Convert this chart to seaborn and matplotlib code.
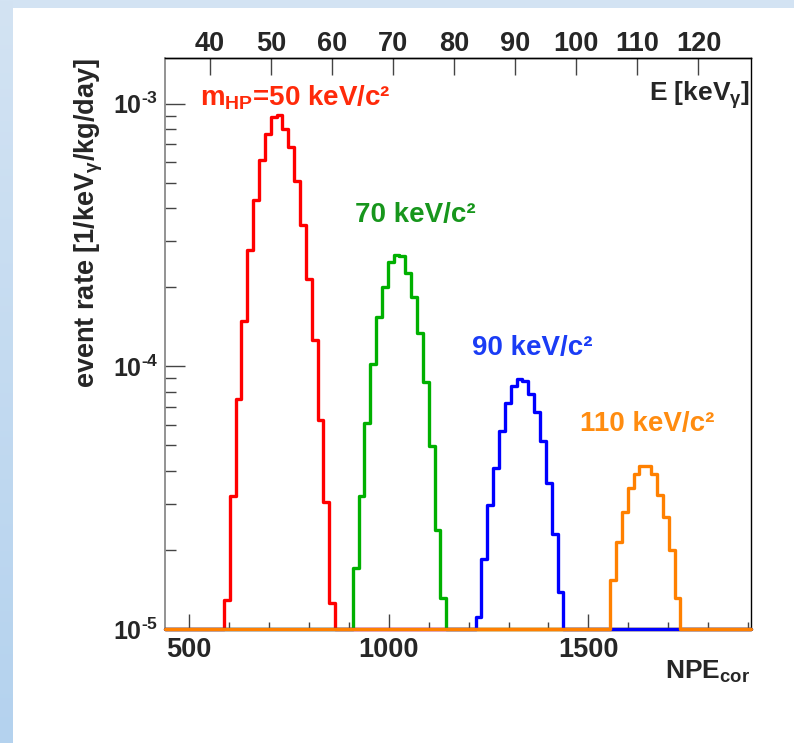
import numpy as np
import pandas as pd
import matplotlib
matplotlib.use("Agg")
import matplotlib.pyplot as plt
import matplotlib.ticker as mticker
import seaborn as sns

# ---- binned spectra: event rate per NPE_cor bin (common bin width) ----
BIN_WIDTH = 14.65
masses = ["50", "70", "90", "110"]
first_bin_edge = [587.5, 909.8, 1217.5, 1554.4]

rate_50 = [1.29e-5, 3.22e-5, 7.51e-5, 1.49e-4, 2.76e-4, 4.28e-4, 6.12e-4,
           7.63e-4, 8.91e-4, 9.03e-4, 7.97e-4, 6.82e-4, 5.08e-4, 3.46e-4,
           2.15e-4, 1.26e-4, 6.23e-5, 3.04e-5, 1.26e-5]
rate_70 = [1.70e-5, 3.20e-5, 6.09e-5, 1.02e-4, 1.54e-4, 2.01e-4, 2.50e-4,
           2.64e-4, 2.62e-4, 2.27e-4, 1.84e-4, 1.34e-4, 8.69e-5, 4.99e-5,
           2.39e-5, 1.31e-5]
rate_90 = [1.11e-5, 1.85e-5, 2.97e-5, 4.10e-5, 5.69e-5, 7.23e-5, 8.39e-5,
           8.95e-5, 8.77e-5, 7.85e-5, 6.68e-5, 5.18e-5, 3.60e-5, 2.29e-5,
           1.38e-5]
rate_110 = [1.53e-5, 2.14e-5, 2.78e-5, 3.43e-5, 3.89e-5, 4.16e-5, 4.16e-5,
            3.89e-5, 3.25e-5, 2.66e-5, 2.00e-5, 1.31e-5]
rates = [rate_50, rate_70, rate_90, rate_110]

line_colors = ["#ff0000", "#00b000", "#0000ff", "#ff8000"]
text_colors = ["#ff2a0a", "#17961c", "#1a3cf5", "#ff8c10"]
peak_labels = [r"m$_{\mathbf{HP}}$=50 keV/c²", "70 keV/c²", "90 keV/c²", "110 keV/c²"]
label_pos = [(0.060, 0.930), (0.324, 0.725), (0.524, 0.492), (0.708, 0.359)]

# axis ranges and NPE <-> energy calibration for the top axis
XMIN, XMAX = 440.0, 1907.0
YMIN, YMAX = 1e-5, 1.49e-3
NPE_PER_KEV, NPE_OFFSET = 15.29, -59.3
energy_ticks = [40, 50, 60, 70, 80, 90, 100, 110, 120]
npe_major = [500, 1000, 1500]

# ---- style ----
sns.set_style("ticks")
plt.rcParams["font.family"] = ["Liberation Sans", "DejaVu Sans"]
plt.rcParams["font.weight"] = "bold"
plt.rcParams["mathtext.fontset"] = "custom"
plt.rcParams["mathtext.rm"] = "Liberation Sans:bold"
plt.rcParams["mathtext.bf"] = "Liberation Sans:bold"
plt.rcParams["mathtext.it"] = "Liberation Sans:bold"
plt.rcParams["mathtext.default"] = "bf"

# ---- long table of step outlines over the whole axis range ----
rows = []
for m, start, vals in zip(masses, first_bin_edge, rates):
    edges = start + BIN_WIDTH * np.arange(len(vals) + 1)
    xs = np.concatenate([[XMIN], edges, [XMAX]])
    ys = np.concatenate([[0.0], vals, [0.0, 0.0]])
    for x, y in zip(xs, ys):
        rows.append({"npe": x, "rate": max(y, YMIN), "mass": m})
df = pd.DataFrame(rows)

fig = plt.figure(figsize=(7.94, 7.43), dpi=100)

# slide background bands
band_top = fig.add_axes([0, 1 - 8 / 743, 1, 8 / 743])
band_top.imshow([[0, 0]], cmap=matplotlib.colors.ListedColormap(["#d3e3f3"]),
                aspect="auto", extent=[0, 1, 0, 1])
band_top.axis("off")
band_left = fig.add_axes([0, 0, 13 / 794, 1])
grad = np.linspace(0, 1, 256).reshape(-1, 1)
band_left.imshow(grad, cmap=matplotlib.colors.LinearSegmentedColormap.from_list(
    "slide", ["#b4d2ee", "#d3e3f3"]), aspect="auto", origin="lower",
    extent=[0, 1, 0, 1])
band_left.axis("off")

ax = fig.add_axes([165 / 794, 1 - 629 / 743, 586 / 794, 571 / 743])
sns.lineplot(data=df, x="npe", y="rate", hue="mass", hue_order=masses,
             palette=dict(zip(masses, line_colors)), estimator=None, sort=False,
             drawstyle="steps-post", lw=2.4, legend=False, clip_on=False,
             zorder=3, ax=ax)

ax.set_yscale("log")
ax.set_xlim(XMIN, XMAX)
ax.set_ylim(YMIN, YMAX)

# ticks
ax.xaxis.set_major_locator(mticker.FixedLocator(npe_major))
ax.xaxis.set_minor_locator(mticker.MultipleLocator(100))
ax.yaxis.set_major_locator(mticker.LogLocator(base=10))
ax.yaxis.set_minor_locator(mticker.LogLocator(base=10, subs=np.arange(2, 10)))
ax.yaxis.set_minor_formatter(mticker.NullFormatter())
ax.yaxis.set_major_formatter(mticker.FuncFormatter(
    lambda v, p: r"$10^{\text{-}%d}$" % int(round(-np.log10(v)))))
ax.tick_params(axis="both", which="both", direction="in", top=False,
               right=False, color="#444444", width=1.0)
ax.tick_params(axis="y", which="major", length=14.5, pad=5, labelsize=18)
ax.tick_params(axis="y", which="minor", length=8)
ax.tick_params(axis="x", which="major", length=10.5, pad=6, labelsize=19.5)
ax.tick_params(axis="x", which="minor", length=5)

for side in ["top", "right"]:
    ax.spines[side].set_color("black")
    ax.spines[side].set_linewidth(1.0)
ax.spines["left"].set_color("#8a8a8a")
ax.spines["left"].set_linewidth(1.3)
ax.spines["bottom"].set_visible(False)

sec = ax.secondary_xaxis(
    "top",
    functions=(lambda n: (n - NPE_OFFSET) / NPE_PER_KEV,
               lambda e: e * NPE_PER_KEV + NPE_OFFSET))
sec.xaxis.set_major_locator(mticker.FixedLocator(energy_ticks))
sec.xaxis.set_minor_locator(mticker.NullLocator())
sec.tick_params(axis="x", direction="in", length=12, width=1.0,
                color="#444444", pad=1, labelsize=19.5)
sec.spines["top"].set_color("black")
sec.spines["top"].set_linewidth(1.0)

# axis titles
ax.set_ylabel(r"event rate [1/keV$_{\gamma}$/kg/day]", fontsize=19.5,
              fontweight="bold", loc="top")
ax.yaxis.set_label_coords(-0.102, 1.0)
ax.set_xlabel(r"NPE$_{\mathbf{cor}}$", fontsize=19, fontweight="bold",
              loc="right")
ax.xaxis.set_label_coords(0.998, -0.052)
ax.text(0.998, 0.935, r"E [keV$_{\gamma}$]", transform=ax.transAxes,
        ha="right", va="center", fontsize=19, fontweight="bold")

# peak labels
for txt, col, (tx, ty) in zip(peak_labels, text_colors, label_pos):
    ax.text(tx, ty, txt, color=col, transform=ax.transAxes, ha="left",
            va="center", fontsize=20, fontweight="bold")

fig.savefig("out.png", dpi=100)
